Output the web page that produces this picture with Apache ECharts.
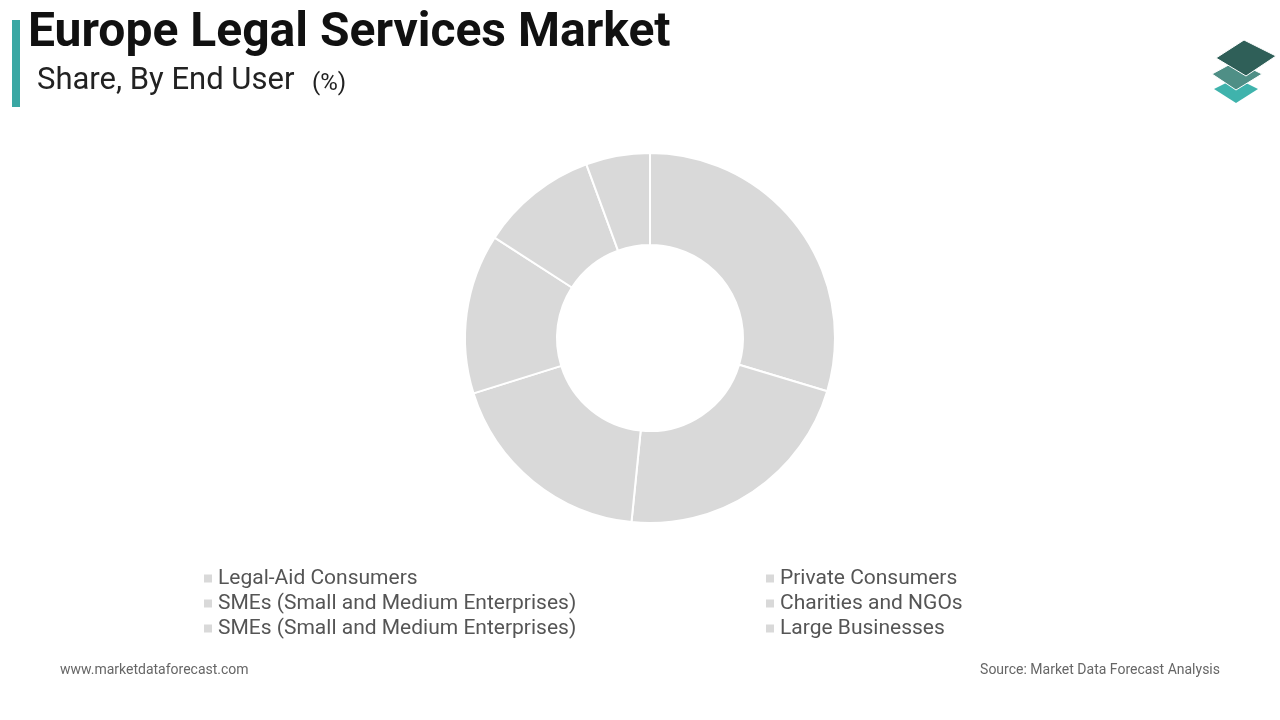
<!DOCTYPE html>
<html>
<head>
<meta charset="utf-8">
<script src="https://cdn.jsdelivr.net/npm/echarts@6/dist/echarts.min.js"></script>
<style>html,body{margin:0;padding:0;background:#fff}#chart{width:1280px;height:720px}</style>
</head>
<body>
<div id="chart"></div>
<script>
// segment names (the source repeats the SMEs label; trailing space keeps them apart)
var names = ['Legal-Aid Consumers', 'SMEs (Small and Medium Enterprises)', 'SMEs (Small and Medium Enterprises) ',
             'Private Consumers', 'Charities and NGOs', 'Large Businesses'];
var shares = [29.7, 22.0, 18.6, 14.0, 10.3, 5.6];

var myChart = echarts.init(document.getElementById('chart'));

var pieData = [];
for (var i = 0; i < names.length; i++) {
    pieData.push({ name: names[i], value: shares[i] });
}

function legendCol(left, items) {
    return {
        orient: 'vertical', left: left, top: 563,
        itemWidth: 10, itemHeight: 10, itemGap: 4, icon: 'rect',
        textStyle: { fontFamily: 'Roboto', fontSize: 21, color: '#555' },
        selectedMode: false,
        data: items
    };
}

var option = {
    color: ['#d9d9d9'],
    legend: [legendCol(197, names.slice(0, 3)), legendCol(759, names.slice(3))],
    graphic: [
        { type: 'rect', shape: { x: 12, y: 20, width: 8, height: 87 }, style: { fill: '#3aa7a3' } },
        { type: 'text', left: 28, top: 10, style: { text: 'Europe Legal Services Market', font: 'bold 48px Roboto', fill: '#111' } },
        { type: 'text', left: 37, top: 66, style: { text: 'Share, By End User', font: '31px Roboto', fill: '#222' } },
        { type: 'text', left: 312, top: 72, style: { text: '(%)', font: '24px Roboto', fill: '#222' } },
        { type: 'text', left: 60, top: 663, style: { text: 'www.marketdataforecast.com', font: '14px Roboto', fill: '#666' } },
        { type: 'text', right: 60, top: 663, style: { text: 'Source: Market Data Forecast Analysis', font: '14px Roboto', fill: '#666' } },
        { type: 'polygon', shape: { points: [[1236, 78], [1258, 89], [1236, 103], [1214, 89]] }, style: { fill: '#3fb3ac' } },
        { type: 'polygon', shape: { points: [[1236, 61], [1262, 74], [1236, 90], [1212, 74]] }, style: { fill: '#4f8f86', stroke: '#fff', lineWidth: 1 } },
        { type: 'polygon', shape: { points: [[1244, 40], [1276, 56], [1246, 76], [1216, 58]] }, style: { fill: '#2f5f58', stroke: '#fff', lineWidth: 1 } }
    ],
    series: [{
        type: 'pie',
        center: [650, 338],
        radius: [93, 185],
        startAngle: 90,
        clockwise: true,
        label: { show: false },
        labelLine: { show: false },
        emphasis: { scale: false },
        itemStyle: { borderColor: '#fff', borderWidth: 2 },
        data: pieData
    }]
};

myChart.setOption(option);
</script>
</body>
</html>
